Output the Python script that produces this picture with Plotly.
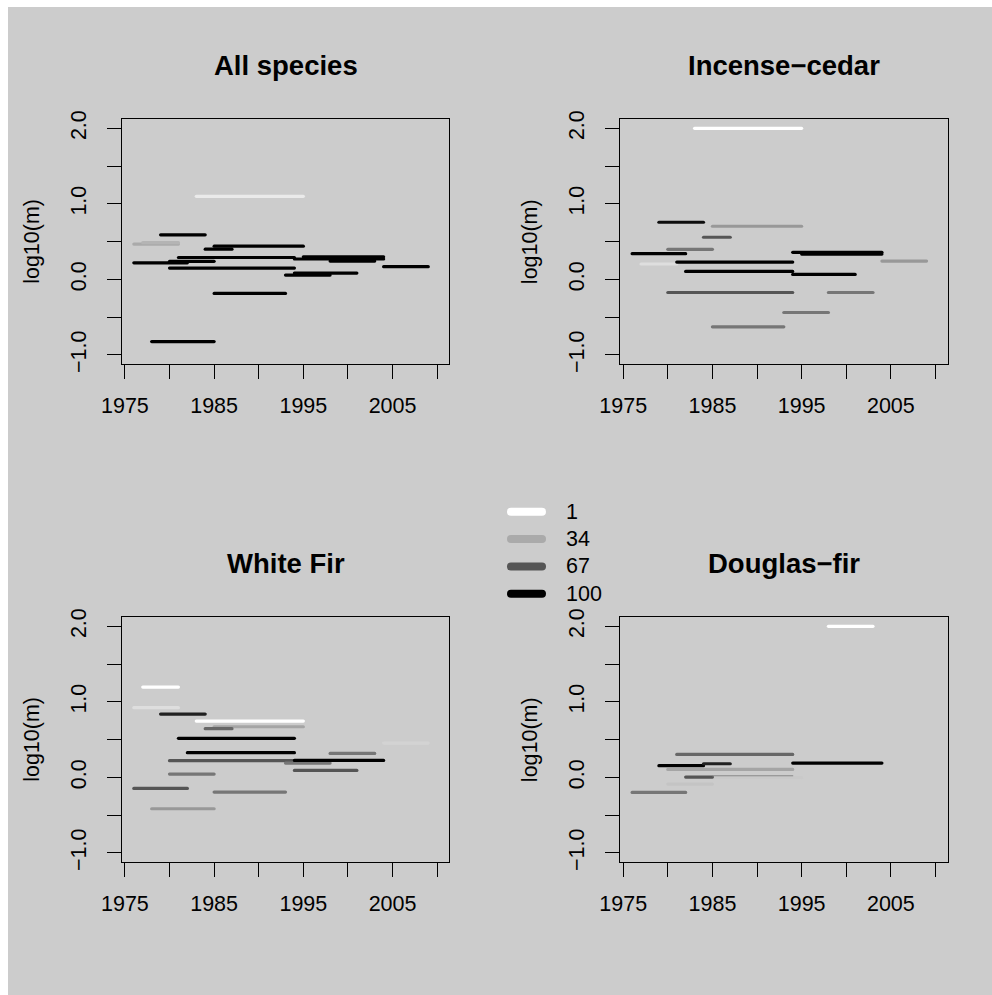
import plotly.graph_objects as go

W, H = 992, 995

# ---- data: census periods (start, end), log10(m) and shade level (1-100) ----
all_start = [1983, 1979, 1976, 1977, 1984, 1985, 1981, 1976, 1980, 1980,
             1994, 1995, 1998, 2004, 1993, 1994, 1985, 1978]
all_end = [1995, 1984, 1981, 1981, 1987, 1995, 1994, 1982, 1985, 1994,
           2004, 2004, 2003, 2009, 1998, 2001, 1993, 1985]
all_logm = [1.10, 0.59, 0.468, 0.486, 0.40, 0.44, 0.29, 0.22, 0.24, 0.15,
            0.27, 0.30, 0.243, 0.168, 0.058, 0.084, -0.186, -0.823]
all_shade = [9, 100, 34, 30, 100, 100, 100, 100, 100, 100,
             100, 100, 100, 100, 100, 100, 100, 100]

cedar_start = [1983, 1979, 1985, 1984, 1980, 1976, 1977, 1981, 1982, 1994,
               1995, 1994, 2004, 1980, 1998, 1993, 1985]
cedar_end = [1995, 1984, 1995, 1987, 1985, 1982, 1981, 1994, 1994, 2004,
             2004, 2001, 2009, 1994, 2003, 1998, 1993]
cedar_logm = [2.00, 0.757, 0.704, 0.558, 0.398, 0.341, 0.204, 0.230, 0.106, 0.358,
              0.336, 0.066, 0.243, -0.173, -0.173, -0.438, -0.628]
cedar_shade = [1, 95, 41, 67, 54, 100, 14, 100, 100, 100,
               100, 100, 41, 67, 54, 54, 54]

fir_start = [1977, 1976, 1979, 1983, 1985, 1984, 1981, 1982, 1998, 2004,
             1980, 1993, 1994, 1994, 1980, 1976, 1985, 1978]
fir_end = [1981, 1981, 1984, 1995, 1995, 1987, 1994, 1994, 2003, 2009,
           1994, 1998, 2004, 2001, 1985, 1982, 1993, 1985]
fir_logm = [1.196, 0.923, 0.839, 0.746, 0.671, 0.645, 0.517, 0.327, 0.318, 0.455,
            0.221, 0.190, 0.225, 0.093, 0.044, -0.146, -0.194, -0.415]
fir_shade = [1, 14, 87, 1, 36, 60, 100, 100, 54, 18,
             67, 54, 100, 67, 54, 67, 54, 41]

dfir_start = [1998, 1981, 1979, 1984, 1994, 1980, 1985, 1982, 1985, 1980, 1976]
dfir_end = [2003, 1994, 1984, 1987, 2004, 1994, 1995, 1985, 1994, 1985, 1982]
dfir_logm = [2.00, 0.305, 0.155, 0.181, 0.190, 0.106, -0.004, 0.005, 0.022, -0.088, -0.199]
dfir_shade = [1, 60, 100, 87, 100, 36, 22, 67, 47, 24, 54]

panel_titles = ["All species", "Incense\u2212cedar", "White Fir", "Douglas\u2212fir"]
legend_levels = [1, 34, 67, 100]

x_ticks = [1975, 1980, 1985, 1990, 1995, 2000, 2005, 2010]
x_labels = ["1975", "", "1985", "", "1995", "", "2005", ""]
y_ticks = [-1.0, -0.5, 0.0, 0.5, 1.0, 1.5, 2.0]
y_labels = ["\u22121.0", "", "0.0", "", "1.0", "", "2.0"]

panels = [
    (all_start, all_end, all_logm, all_shade),
    (cedar_start, cedar_end, cedar_logm, cedar_shade),
    (fir_start, fir_end, fir_logm, fir_shade),
    (dfir_start, dfir_end, dfir_logm, dfir_shade),
]

# ---- styling ----
FONT = "Liberation Sans, Arial, Helvetica, sans-serif"
BG = "#cccccc"
SEG_W = 3.2
THIN = {(3, 8)}  # (panel, segment) drawn with a hairline
TICK_SIZE = 21.5
TITLE_SIZE = 27.5


def shade_color(v):
    g = round(255 * (100 - v) / 99)
    return f"rgb({g},{g},{g})"


# plot boxes in pixels: left, right, top, bottom
boxes = [
    (121.7, 449.3, 119.3, 364.0),
    (620.0, 947.6, 119.3, 364.0),
    (121.7, 449.3, 617.3, 862.0),
    (620.0, 947.6, 617.3, 862.0),
]

x_lim = (1976, 2010)
y_lim = (-1.0, 2.0)
pad_x = 0.04 * (x_lim[1] - x_lim[0])
pad_y = 0.04 * (y_lim[1] - y_lim[0])

fig = go.Figure()
layout = dict(
    template="none",
    width=W, height=H, autosize=False,
    margin=dict(l=0, r=0, t=0, b=0, pad=0),
    paper_bgcolor="white",
    plot_bgcolor="rgba(0,0,0,0)",
    showlegend=False,
    font=dict(family=FONT, color="black", size=TICK_SIZE),
    shapes=[dict(type="rect", xref="paper", yref="paper",
                 x0=8 / W, x1=1, y0=0, y1=1 - 7 / H,
                 fillcolor=BG, line=dict(width=0), layer="below")],
    annotations=[],
)

for i, (starts, ends, logm, shade) in enumerate(panels):
    n = i + 1
    xa = "x" if n == 1 else f"x{n}"
    ya = "y" if n == 1 else f"y{n}"
    l, r, t, b = boxes[i]
    for j, (s, e, v, c) in enumerate(zip(starts, ends, logm, shade)):
        fig.add_trace(go.Scatter(
            x=[s, e], y=[v, v], mode="lines", xaxis=xa, yaxis=ya,
            line=dict(color=shade_color(c), width=1.2 if (i, j) in THIN else SEG_W),
            hoverinfo="skip"))
    layout[f"xaxis{'' if n == 1 else n}"] = dict(
        domain=[l / W, r / W], anchor=ya, automargin=False,
        range=[x_lim[0] - pad_x, x_lim[1] + pad_x],
        tickmode="array", tickvals=x_ticks, ticktext=x_labels,
        ticks="outside", ticklen=14, tickwidth=1.3, tickcolor="black",
        showline=True, mirror=True, linecolor="black", linewidth=1.3,
        showgrid=False, zeroline=False, ticklabelstandoff=8,
        tickfont=dict(size=TICK_SIZE, family=FONT, color="black"))
    layout[f"yaxis{'' if n == 1 else n}"] = dict(
        domain=[1 - b / H, 1 - t / H], anchor=xa, automargin=False,
        range=[y_lim[0] - pad_y, y_lim[1] + pad_y],
        tickmode="array", tickvals=y_ticks, ticktext=y_labels, tickangle=-90,
        ticks="outside", ticklen=14, tickwidth=1.3, tickcolor="black",
        showline=True, mirror=True, linecolor="black", linewidth=1.3,
        showgrid=False, zeroline=False, ticklabelstandoff=12,
        tickfont=dict(size=TICK_SIZE, family=FONT, color="black"))
    layout["annotations"].append(dict(
        text=f"<b>{panel_titles[i]}</b>", xref="paper", yref="paper",
        x=(l + r) / 2 / W, y=1 - (t - 54) / H, showarrow=False,
        xanchor="center", yanchor="middle",
        font=dict(size=TITLE_SIZE, family=FONT, color="black")))
    layout["annotations"].append(dict(
        text="log10(m)", xref="paper", yref="paper", textangle=-90,
        x=(l - 90.5) / W, y=1 - (t + b) / 2 / H, showarrow=False,
        xanchor="center", yanchor="middle",
        font=dict(size=TICK_SIZE, family=FONT, color="black")))

# ---- legend drawn on its own hidden axes ----
leg_l, leg_r = 511.0, 542.0        # key line ends (pixels)
row0, row_step = 511.7, 27.35       # first row centre and spacing (pixels)
lx_pad, ly_pad = 0.5, 0.5
ux = leg_r - leg_l
leg_top = row0 - ly_pad * row_step
leg_bot = row0 + (len(legend_levels) - 1 + ly_pad) * row_step
for k, lev in enumerate(legend_levels):
    fig.add_trace(go.Scatter(
        x=[0, 1], y=[k, k], mode="lines", xaxis="x5", yaxis="y5",
        line=dict(color=shade_color(lev), width=8), hoverinfo="skip"))
    layout["annotations"].append(dict(
        text=str(lev), xref="paper", yref="y5", x=564 / W, y=k,
        xanchor="left", yanchor="middle", showarrow=False,
        font=dict(size=TICK_SIZE, family=FONT, color="black")))
layout["xaxis5"] = dict(
    domain=[(leg_l - lx_pad * ux) / W, (leg_r + lx_pad * ux) / W], anchor="y5",
    range=[-lx_pad, 1 + lx_pad], visible=False, fixedrange=True, automargin=False)
layout["yaxis5"] = dict(
    domain=[1 - leg_bot / H, 1 - leg_top / H], anchor="x5",
    range=[len(legend_levels) - 1 + ly_pad, -ly_pad], visible=False,
    fixedrange=True, automargin=False)

fig.update_layout(**layout)

# segments are drawn with rounded ends
round_caps = (
    "document.querySelectorAll('.scatterlayer .js-line').forEach("
    "function(p){p.style.strokeLinecap='round';});"
)
fig.write_html("out.html", post_script=round_caps)
